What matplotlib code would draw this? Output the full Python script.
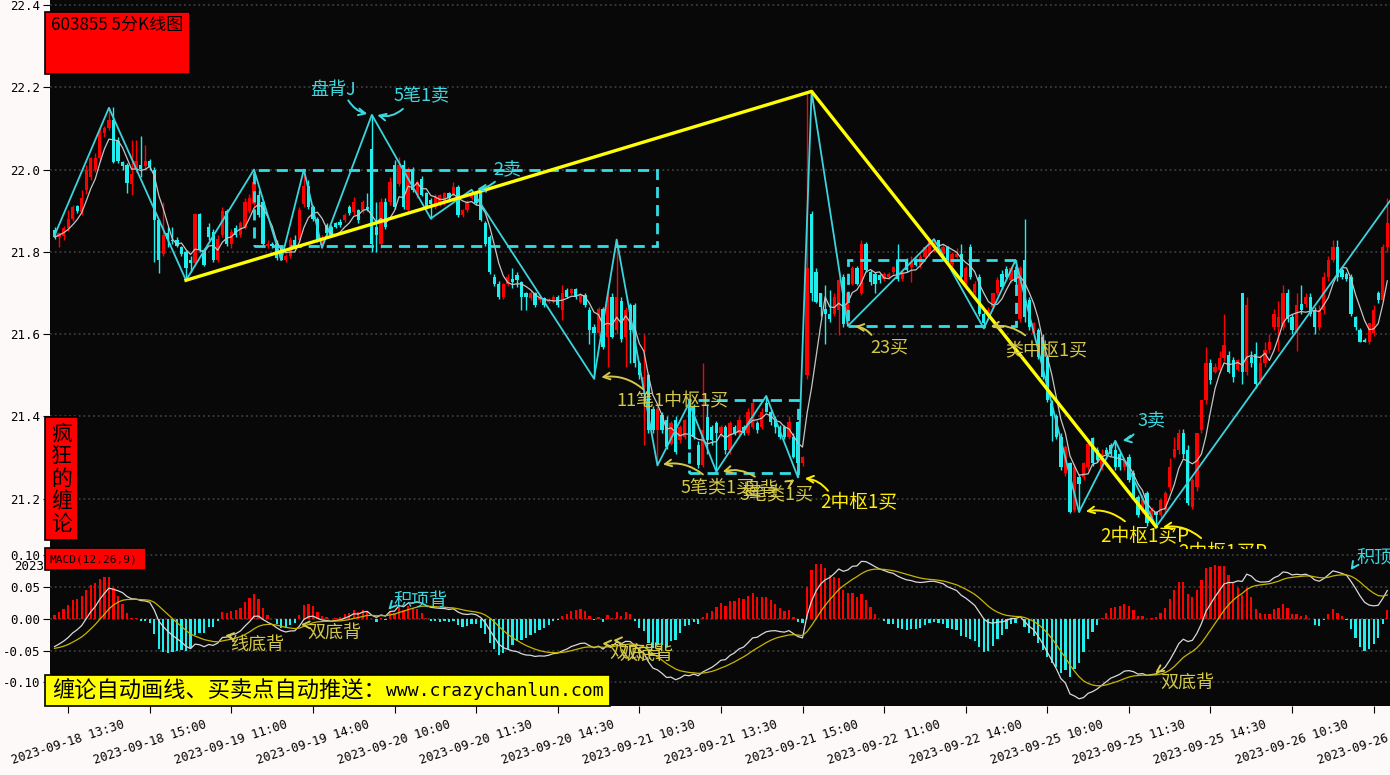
import numpy as np
import matplotlib
matplotlib.use('Agg')
import matplotlib.pyplot as plt
from matplotlib.patches import Rectangle

plt.rcParams['font.family'] = ['Noto Sans CJK SC', 'DejaVu Sans']
plt.rcParams['axes.unicode_minus'] = False

# 5 minute bars of 603855, one list of (open, high, low, close) per trading day
d0918 = [
    (21.853, 21.861, 21.832, 21.836), (21.836, 21.848, 21.812, 21.845), (21.838, 21.862, 21.830, 21.858),
    (21.857, 21.901, 21.850, 21.879), (21.879, 21.915, 21.875, 21.910), (21.911, 21.915, 21.895, 21.900),
    (21.897, 21.950, 21.890, 21.930), (21.950, 22.011, 21.940, 22.000), (21.982, 22.030, 21.975, 22.029),
    (22.000, 22.040, 21.995, 22.029), (22.027, 22.100, 22.020, 22.092), (22.089, 22.105, 22.080, 22.100),
    (22.100, 22.151, 22.095, 22.120), (22.120, 22.151, 22.015, 22.019), (22.070, 22.080, 22.015, 22.020),
    (22.019, 22.022, 22.000, 22.008), (22.010, 22.015, 21.942, 21.968), (21.966, 22.071, 21.938, 21.990),
    (22.002, 22.071, 21.995, 22.021), (22.011, 22.081, 21.982, 22.002), (22.008, 22.059, 22.000, 22.021),
    (22.021, 22.025, 22.000, 22.005),
]
d0919 = [
    (22.000, 22.005, 21.776, 21.877), (21.877, 21.880, 21.749, 21.780), (21.796, 21.921, 21.790, 21.840),
    (21.845, 21.861, 21.812, 21.832), (21.830, 21.861, 21.820, 21.826), (21.830, 21.836, 21.812, 21.814),
    (21.812, 21.815, 21.790, 21.796), (21.800, 21.805, 21.731, 21.760), (21.780, 21.790, 21.751, 21.772),
    (21.772, 21.895, 21.765, 21.891), (21.891, 21.895, 21.800, 21.804), (21.804, 21.810, 21.765, 21.768),
    (21.861, 21.870, 21.830, 21.836), (21.849, 21.855, 21.775, 21.780), (21.780, 21.840, 21.775, 21.832),
    (21.840, 21.910, 21.835, 21.900), (21.900, 21.905, 21.815, 21.820), (21.820, 21.855, 21.810, 21.849),
    (21.857, 21.865, 21.835, 21.840), (21.840, 21.875, 21.835, 21.869), (21.861, 21.930, 21.855, 21.921),
    (21.900, 21.940, 21.895, 21.930), (21.917, 22.000, 21.910, 21.970), (21.938, 21.950, 21.885, 21.889),
    (21.920, 21.925, 21.815, 21.820), (21.814, 21.830, 21.810, 21.820), (21.820, 21.825, 21.810, 21.815),
    (21.820, 21.830, 21.780, 21.785), (21.812, 21.815, 21.780, 21.780), (21.780, 21.795, 21.775, 21.789),
    (21.789, 21.835, 21.785, 21.830), (21.830, 21.840, 21.810, 21.815), (21.830, 21.910, 21.825, 21.901),
    (21.917, 22.000, 21.910, 21.960), (21.960, 21.975, 21.905, 21.909), (21.909, 21.915, 21.875, 21.881),
    (21.881, 21.885, 21.825, 21.830), (21.816, 21.840, 21.810, 21.828), (21.865, 21.870, 21.840, 21.845),
    (21.861, 21.866, 21.835, 21.840), (21.869, 21.872, 21.858, 21.861), (21.872, 21.880, 21.860, 21.865),
    (21.877, 21.895, 21.872, 21.889), (21.910, 21.915, 21.890, 21.895), (21.897, 21.934, 21.890, 21.921),
    (21.901, 21.905, 21.870, 21.877), (21.901, 21.925, 21.895, 21.921), (21.909, 21.942, 21.900, 21.905),
]
d0920 = [
    (22.051, 22.133, 21.800, 21.820), (21.860, 21.920, 21.800, 21.840), (21.820, 21.930, 21.810, 21.920),
    (21.920, 21.930, 21.855, 21.860), (21.920, 21.982, 21.915, 21.970), (22.010, 22.023, 21.905, 21.909),
    (21.966, 22.030, 21.960, 22.011), (22.011, 22.023, 21.905, 21.909), (21.901, 22.005, 21.895, 22.000),
    (22.000, 22.005, 21.945, 21.950), (21.938, 21.975, 21.930, 21.970), (21.978, 21.985, 21.935, 21.938),
    (21.942, 21.945, 21.905, 21.909), (21.925, 21.930, 21.881, 21.917), (21.909, 21.940, 21.905, 21.934),
    (21.917, 21.940, 21.912, 21.938), (21.921, 21.945, 21.915, 21.942), (21.942, 21.946, 21.928, 21.930),
    (21.938, 21.970, 21.935, 21.958), (21.958, 21.962, 21.885, 21.889), (21.889, 21.905, 21.885, 21.901),
    (21.901, 21.925, 21.897, 21.921), (21.930, 21.951, 21.925, 21.942), (21.942, 21.946, 21.915, 21.918),
    (21.942, 21.945, 21.875, 21.877), (21.869, 21.875, 21.815, 21.820), (21.836, 21.840, 21.745, 21.751),
    (21.739, 21.745, 21.718, 21.723), (21.723, 21.728, 21.685, 21.691), (21.691, 21.725, 21.685, 21.723),
    (21.723, 21.747, 21.718, 21.739), (21.735, 21.760, 21.711, 21.727), (21.743, 21.750, 21.715, 21.731),
    (21.727, 21.730, 21.658, 21.691), (21.699, 21.703, 21.658, 21.691), (21.687, 21.705, 21.683, 21.699),
    (21.699, 21.703, 21.665, 21.670), (21.683, 21.695, 21.678, 21.691), (21.687, 21.690, 21.665, 21.670),
    (21.679, 21.687, 21.675, 21.683), (21.679, 21.695, 21.675, 21.691), (21.691, 21.695, 21.665, 21.670),
    (21.658, 21.719, 21.634, 21.699), (21.707, 21.712, 21.687, 21.691), (21.699, 21.712, 21.695, 21.709),
    (21.709, 21.713, 21.685, 21.691), (21.679, 21.699, 21.675, 21.695), (21.695, 21.700, 21.665, 21.670),
]
d0921 = [
    (21.658, 21.665, 21.577, 21.610), (21.618, 21.625, 21.492, 21.602), (21.602, 21.665, 21.595, 21.660),
    (21.660, 21.665, 21.565, 21.569), (21.594, 21.700, 21.521, 21.691), (21.691, 21.700, 21.590, 21.594),
    (21.610, 21.830, 21.600, 21.691), (21.681, 21.690, 21.580, 21.589), (21.594, 21.665, 21.520, 21.658),
    (21.670, 21.675, 21.530, 21.610), (21.670, 21.675, 21.520, 21.529), (21.529, 21.535, 21.490, 21.500),
    (21.472, 21.600, 21.330, 21.496), (21.500, 21.505, 21.360, 21.367), (21.419, 21.425, 21.360, 21.367),
    (21.367, 21.425, 21.281, 21.419), (21.403, 21.410, 21.360, 21.367), (21.391, 21.400, 21.320, 21.326),
    (21.334, 21.390, 21.330, 21.383), (21.391, 21.400, 21.310, 21.314), (21.343, 21.380, 21.335, 21.375),
    (21.351, 21.395, 21.345, 21.391), (21.423, 21.433, 21.320, 21.322), (21.423, 21.430, 21.345, 21.351),
    (21.330, 21.340, 21.275, 21.282), (21.282, 21.529, 21.278, 21.367), (21.399, 21.430, 21.310, 21.343),
    (21.375, 21.380, 21.330, 21.343), (21.383, 21.390, 21.266, 21.359), (21.359, 21.380, 21.350, 21.375),
    (21.375, 21.380, 21.310, 21.318), (21.318, 21.390, 21.310, 21.383), (21.375, 21.380, 21.355, 21.359),
    (21.359, 21.400, 21.355, 21.391), (21.375, 21.380, 21.355, 21.359), (21.359, 21.420, 21.355, 21.411),
    (21.375, 21.440, 21.370, 21.432), (21.383, 21.390, 21.360, 21.367), (21.375, 21.420, 21.370, 21.411),
    (21.432, 21.450, 21.410, 21.411), (21.411, 21.415, 21.380, 21.387), (21.395, 21.400, 21.360, 21.375),
    (21.375, 21.380, 21.345, 21.351), (21.375, 21.380, 21.345, 21.351), (21.351, 21.400, 21.345, 21.387),
    (21.351, 21.360, 21.300, 21.302), (21.387, 21.390, 21.252, 21.286), (21.286, 21.305, 21.280, 21.302),
]
d0922 = [
    (21.500, 22.191, 21.490, 21.760), (21.893, 21.900, 21.680, 21.699), (21.751, 21.760, 21.675, 21.679),
    (21.699, 21.700, 21.645, 21.666), (21.662, 21.720, 21.577, 21.650), (21.650, 21.707, 21.630, 21.638),
    (21.650, 21.700, 21.645, 21.691), (21.658, 21.735, 21.598, 21.731), (21.739, 21.745, 21.618, 21.625),
    (21.634, 21.705, 21.626, 21.699), (21.723, 21.765, 21.720, 21.760), (21.760, 21.765, 21.720, 21.723),
    (21.700, 21.828, 21.695, 21.820), (21.820, 21.825, 21.750, 21.755), (21.751, 21.755, 21.720, 21.727),
    (21.747, 21.750, 21.700, 21.723), (21.743, 21.745, 21.725, 21.731), (21.735, 21.750, 21.730, 21.747),
    (21.739, 21.750, 21.735, 21.747), (21.751, 21.765, 21.745, 21.764), (21.780, 21.820, 21.730, 21.735),
    (21.735, 21.755, 21.730, 21.747), (21.780, 21.785, 21.750, 21.755), (21.764, 21.790, 21.727, 21.776),
    (21.780, 21.785, 21.765, 21.768), (21.768, 21.795, 21.760, 21.788), (21.788, 21.815, 21.785, 21.812),
    (21.796, 21.830, 21.790, 21.828), (21.812, 21.831, 21.800, 21.828), (21.828, 21.830, 21.805, 21.812),
    (21.796, 21.820, 21.790, 21.812), (21.812, 21.815, 21.775, 21.780), (21.771, 21.800, 21.765, 21.796),
    (21.788, 21.810, 21.785, 21.796), (21.796, 21.820, 21.735, 21.739), (21.723, 21.765, 21.720, 21.760),
    (21.812, 21.820, 21.735, 21.739), (21.699, 21.730, 21.695, 21.723), (21.739, 21.745, 21.645, 21.650),
    (21.650, 21.655, 21.614, 21.626), (21.642, 21.665, 21.635, 21.658), (21.666, 21.700, 21.660, 21.699),
    (21.699, 21.740, 21.695, 21.731), (21.747, 21.755, 21.710, 21.715), (21.758, 21.765, 21.735, 21.739),
    (21.731, 21.765, 21.725, 21.760), (21.755, 21.780, 21.720, 21.727), (21.638, 21.765, 21.630, 21.760),
]
d0925 = [
    (21.780, 21.879, 21.630, 21.642), (21.683, 21.690, 21.610, 21.618), (21.602, 21.630, 21.595, 21.626),
    (21.610, 21.615, 21.540, 21.545), (21.594, 21.600, 21.490, 21.496), (21.545, 21.550, 21.435, 21.440),
    (21.432, 21.440, 21.340, 21.400), (21.400, 21.405, 21.345, 21.351), (21.351, 21.360, 21.270, 21.278),
    (21.262, 21.330, 21.255, 21.326), (21.286, 21.290, 21.165, 21.168), (21.172, 21.285, 21.168, 21.278),
    (21.253, 21.260, 21.168, 21.237), (21.253, 21.290, 21.245, 21.286), (21.278, 21.340, 21.270, 21.334),
    (21.347, 21.350, 21.280, 21.286), (21.318, 21.325, 21.290, 21.294), (21.278, 21.320, 21.270, 21.310),
    (21.318, 21.325, 21.305, 21.310), (21.330, 21.335, 21.305, 21.310), (21.318, 21.341, 21.270, 21.278),
    (21.310, 21.315, 21.270, 21.278), (21.278, 21.300, 21.270, 21.294), (21.302, 21.310, 21.240, 21.245),
    (21.262, 21.270, 21.200, 21.205), (21.205, 21.210, 21.155, 21.160), (21.172, 21.210, 21.165, 21.197),
    (21.213, 21.220, 21.135, 21.140), (21.148, 21.180, 21.140, 21.172), (21.168, 21.170, 21.132, 21.160),
    (21.160, 21.200, 21.155, 21.197), (21.172, 21.220, 21.165, 21.213), (21.229, 21.300, 21.220, 21.278),
    (21.302, 21.350, 21.300, 21.322), (21.318, 21.370, 21.310, 21.359), (21.359, 21.370, 21.300, 21.310),
    (21.318, 21.330, 21.185, 21.189), (21.181, 21.250, 21.175, 21.245), (21.229, 21.360, 21.220, 21.359),
    (21.367, 21.440, 21.360, 21.440), (21.440, 21.570, 21.430, 21.529), (21.529, 21.540, 21.480, 21.488),
    (21.509, 21.530, 21.505, 21.520), (21.513, 21.560, 21.505, 21.541), (21.541, 21.650, 21.535, 21.573),
    (21.549, 21.560, 21.505, 21.509), (21.537, 21.545, 21.485, 21.496), (21.513, 21.540, 21.510, 21.537),
]
d0926 = [
    (21.699, 21.700, 21.480, 21.509), (21.509, 21.690, 21.500, 21.670), (21.545, 21.560, 21.520, 21.529),
    (21.553, 21.580, 21.470, 21.480), (21.488, 21.550, 21.480, 21.529), (21.529, 21.580, 21.520, 21.561),
    (21.561, 21.600, 21.555, 21.581), (21.618, 21.660, 21.610, 21.650), (21.618, 21.680, 21.560, 21.642),
    (21.618, 21.720, 21.610, 21.699), (21.699, 21.710, 21.630, 21.638), (21.642, 21.650, 21.600, 21.610),
    (21.602, 21.700, 21.560, 21.670), (21.674, 21.720, 21.650, 21.658), (21.674, 21.700, 21.665, 21.691),
    (21.691, 21.700, 21.645, 21.650), (21.658, 21.665, 21.600, 21.618), (21.618, 21.670, 21.610, 21.658),
    (21.658, 21.750, 21.650, 21.739), (21.739, 21.790, 21.730, 21.780), (21.780, 21.830, 21.775, 21.812),
    (21.812, 21.830, 21.730, 21.739), (21.755, 21.760, 21.735, 21.739), (21.745, 21.750, 21.730, 21.735),
    (21.739, 21.745, 21.645, 21.650), (21.642, 21.645, 21.610, 21.618), (21.610, 21.615, 21.580, 21.581),
    (21.585, 21.590, 21.580, 21.581), (21.581, 21.620, 21.575, 21.626), (21.602, 21.670, 21.595, 21.658),
    (21.699, 21.705, 21.675, 21.683), (21.683, 21.820, 21.680, 21.812), (21.812, 21.930, 21.800, 21.869),
]

# chan analysis: strokes (bi), segments and pivots (zhongshu)
bi_idx = [0, 12, 29, 44, 50, 55, 59, 70, 83, 92, 119, 124, 133, 140, 146, 157, 164, 167, 175, 194,
          205, 212, 226, 234, 243, 295]
bi_price = [21.84, 22.15, 21.731, 22.0, 21.78, 22.0, 21.81, 22.133, 21.881, 21.951, 21.492, 21.83,
            21.281, 21.433, 21.266, 21.45, 21.252, 22.19, 21.62, 21.831, 21.614, 21.78, 21.168, 21.341,
            21.132, 21.93]
seg_idx = [29, 167, 243]
seg_price = [21.731, 22.19, 21.132]
zs_start = [44, 140, 175]
zs_end = [133, 164, 212]
zs_low = [21.815, 21.263, 21.62]
zs_high = [22.0, 21.44, 21.78]

tick_idx = [3 + 18 * k for k in range(17)]
tick_labels = ['2023-09-18 13:30', '2023-09-18 15:00', '2023-09-19 11:00', '2023-09-19 14:00',
               '2023-09-20 10:00', '2023-09-20 11:30', '2023-09-20 14:30', '2023-09-21 10:30',
               '2023-09-21 13:30', '2023-09-21 15:00', '2023-09-22 11:00', '2023-09-22 14:00',
               '2023-09-25 10:00', '2023-09-25 11:30', '2023-09-25 14:30', '2023-09-26 10:30',
               '2023-09-26 13:30']

bars = np.array(d0918 + d0919 + d0920 + d0921 + d0922 + d0925 + d0926)
opens, highs, lows, closes = bars.T
x = np.arange(len(bars))

RED = '#ff0000'
CYAN = '#1eeeee'
BI = '#3cd4dc'
BUY = '#d4c84a'
BUY2 = '#ffee00'
SELL = '#3cd8e0'
MONO = 'DejaVu Sans Mono'
W, H = 1390, 775


def ema(values, n, start):
    out = np.empty(len(values))
    k = 2.0 / (n + 1)
    prev = start
    for j, v in enumerate(values):
        prev = prev + k * (v - prev)
        out[j] = prev
    return out


ma = np.convolve(closes, np.ones(5) / 5, mode='full')[:len(closes)]
ma[:4] = [closes[:j + 1].mean() for j in range(4)]
dif = ema(closes, 12, closes[0]) - ema(closes, 26, closes[0] + 0.047)
dea = ema(dif, 9, -0.047)
hist = 2 * (dif - dea)

fig = plt.figure(figsize=(W / 100, H / 100), dpi=100, facecolor='#fcf9f8')
ax = fig.add_axes([50 / W, 1 - 549 / H, 1340 / W, 549 / H], facecolor='#080808')
ax2 = fig.add_axes([50 / W, 1 - 706 / H, 1340 / W, 157 / H], facecolor='#080808')

# candles
up = closes >= opens
colors = np.where(up, RED, CYAN)
ax.vlines(x, lows, highs, colors=colors, lw=1, zorder=2)
body = np.maximum(np.abs(closes - opens), 0.003)
ax.bar(x, body, bottom=np.minimum(opens, closes), width=0.72, color=colors, lw=0, zorder=3)
ax.plot(x, ma, color='#c4c4c4', lw=0.9, zorder=4)

# pivots, strokes, segments
for s, e, lo, hi in zip(zs_start, zs_end, zs_low, zs_high):
    ax.add_patch(Rectangle((s, lo), e - s, hi - lo, fill=False, ec='#33dde6', lw=2,
                           ls=(0, (4, 2.5)), zorder=5))
ax.plot(bi_idx, bi_price, color=BI, lw=1.3, zorder=6)
ax.plot(seg_idx, seg_price, color='#ffff00', lw=2.4, zorder=7)

ax.set_xlim(-1, 294.6)
ax.set_ylim(21.078, 22.412)
ax.set_yticks([22.4, 22.2, 22.0, 21.8, 21.6, 21.4, 21.2],
              ['22.4', '22.2', '22.0', '21.8', '21.6', '21.4', '21.2'], fontfamily=MONO, fontsize=9)
ax.set_xticks([])
ax.grid(axis='y', color='#3c3c3c', ls=':', lw=1.3)
ax.tick_params(axis='y', length=5, pad=2, colors='black')
for sp in ax.spines.values():
    sp.set_visible(False)


def note(a, text, txy, tail, head, color, size=13, rad=0.25):
    a.text(txy[0], txy[1], text, color=color, fontsize=size, va='center', ha='left', zorder=9)
    a.annotate('', xy=head, xytext=tail, zorder=9,
               arrowprops=dict(arrowstyle='->', color=color, lw=1.4, mutation_scale=12,
                               connectionstyle='arc3,rad=%s' % rad))


note(ax, '盘背J', (56.4, 22.193), (64.5, 22.174), (69.6, 22.134), SELL, rad=0.25)
note(ax, '5笔1卖', (74.7, 22.179), (77.3, 22.152), (70.6, 22.134), SELL, rad=-0.3)
note(ax, '2卖', (96.8, 21.999), (97.6, 21.975), (92.6, 21.952), SELL, rad=-0.2)
note(ax, '11笔1中枢1买', (124, 21.438), (130.3, 21.462), (120.0, 21.494), BUY, rad=0.25)
note(ax, '5笔类1买', (138, 21.229), (143.5, 21.255), (133.6, 21.282), BUY, rad=0.25)
note(ax, '3笔类1买', (151, 21.212), (155, 21.25), (146.8, 21.264), BUY, rad=0.25)
note(ax, '盘背', (151.8, 21.222), (162.3, 21.23), (163.8, 21.25), BUY, rad=-0.3)
note(ax, '2中枢1买', (168.9, 21.19), (171, 21.214), (164.9, 21.25), BUY2, size=13.5, rad=0.25)
note(ax, '23买', (180, 21.569), (180.6, 21.593), (176, 21.619), BUY, rad=0.25)
note(ax, '类中枢1买', (209.7, 21.559), (214.6, 21.593), (205.9, 21.617), BUY, rad=0.25)
note(ax, '3卖', (238.8, 21.389), (238.4, 21.362), (235, 21.341), SELL, rad=-0.25)
note(ax, '2中枢1买P', (230.7, 21.107), (236.6, 21.141), (226.9, 21.168), BUY2, size=13.5, rad=0.25)
note(ax, '2中枢1买P', (247.9, 21.068), (253.4, 21.1), (243.9, 21.13), BUY2, size=13.5, rad=0.25)

# MACD panel
hcol = np.where(hist >= 0, RED, CYAN)
ax2.bar(x, hist, width=0.5, color=hcol, lw=0, zorder=3)
ax2.plot(x, dif, color='#d8d8d8', lw=0.9, zorder=4)
ax2.plot(x, dea, color='#c8b400', lw=0.9, zorder=4)
ax2.set_xlim(-1, 294.6)
ax2.set_ylim(-0.137, 0.110)
ax2.set_yticks([0.10, 0.05, 0.0, -0.05, -0.10], ['0.10', '0.05', '0.00', '-0.05', '-0.10'],
               fontfamily=MONO, fontsize=9)
ax2.set_xticks(tick_idx, tick_labels, rotation=18, ha='center', fontfamily=MONO, fontsize=8.8)
ax2.grid(axis='y', color='#3c3c3c', ls=':', lw=1.3)
ax2.tick_params(axis='y', length=5, pad=2, colors='black')
ax2.tick_params(axis='x', length=5, pad=4, colors='black')
for sp in ax2.spines.values():
    sp.set_visible(False)

note(ax2, '线底背', (38.8, -0.041), (39.5, -0.032), (37.0, -0.026), BUY, rad=0.2)
note(ax2, '双底背', (55.7, -0.022), (56.0, -0.013), (53.7, -0.009), BUY, rad=0.2)
note(ax2, '积项背', (74.7, 0.028), (74.6, 0.019), (73.3, 0.011), SELL, rad=0.2)
note(ax2, '双底背', (122.3, -0.054), (122.2, -0.042), (120.2, -0.039), BUY, rad=0.2)
note(ax2, '双底背', (124.6, -0.056), (124.6, -0.037), (122.6, -0.034), BUY, rad=0.2)
note(ax2, '双底背', (243.9, -0.101), (244.1, -0.082), (242.3, -0.088), BUY, rad=0.2)
note(ax2, '积顶背', (287.2, 0.095), (287.2, 0.084), (285.6, 0.073), SELL, rad=0.2)


# figure-level labels
def fbox(x0, y0, x1, y1, color):
    fig.add_artist(Rectangle((x0 / W, 1 - y1 / H), (x1 - x0) / W, (y1 - y0) / H,
                             transform=fig.transFigure, fc=color, ec='black', lw=1.2, zorder=20))


fbox(45, 12, 190, 74, RED)
fig.text(51 / W, 1 - 16 / H, '603855 5分K线图', fontsize=12.3, va='top', ha='left', zorder=21)
fbox(45, 417, 78, 540, RED)
for k, ch in enumerate('疯狂的缠论'):
    fig.text(61.5 / W, 1 - (434 + 22.4 * k) / H, ch, fontsize=15, va='center', ha='center', zorder=21)
fbox(45, 548, 146, 570, RED)
fig.text(50 / W, 1 - 559 / H, 'MACD(12,26,9)', fontsize=8, family=MONO, va='center', ha='left', zorder=21)
fbox(45, 675, 610, 706, '#ffff00')
fig.text(52 / W, 1 - 691 / H, '缠论自动画线、买卖点自动推送：', fontsize=16, va='center', ha='left', zorder=21)
fig.text(386 / W, 1 - 691 / H, 'www.crazychanlun.com', fontsize=13.1, family=MONO, va='center',
         ha='left', zorder=21)
fig.text(44 / W, 1 - 567 / H, '2023', fontsize=9, family=MONO, va='center', ha='right')

fig.savefig('out.png', dpi=100, facecolor=fig.get_facecolor())
